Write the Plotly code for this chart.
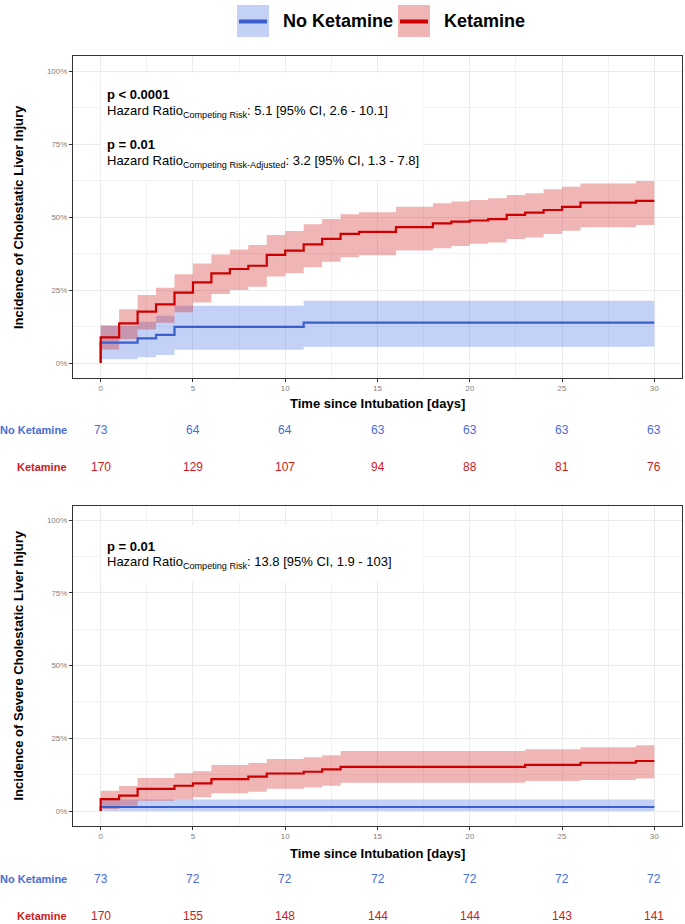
import plotly.graph_objects as go

# ---------------- data ----------------
# Top panel: Cholestatic Liver Injury (cumulative incidence, %)
time_top_ket = [0, 1, 2, 3, 4, 5, 6, 7, 8, 9, 10, 11, 12, 13, 14, 16, 18, 19, 20, 21, 22, 23, 24, 25, 26, 29]
est_top_ket = [8.8, 13.6, 17.6, 20.1, 24.1, 27.6, 30.7, 32.2, 33.3, 37.0, 38.5, 40.6, 42.5, 44.2, 44.9, 46.5,
               47.8, 48.4, 48.8, 49.3, 50.7, 51.5, 52.4, 53.5, 54.9, 55.5]
lo_top_ket = [4.6, 8.2, 11.5, 13.8, 17.4, 20.7, 23.6, 25.0, 26.1, 29.6, 30.7, 32.8, 34.7, 36.2, 36.9, 38.5,
              39.3, 40.1, 40.8, 41.3, 42.5, 43.0, 44.2, 45.3, 46.5, 47.3]
hi_top_ket = [12.9, 18.4, 23.3, 25.8, 30.4, 34.1, 37.2, 38.9, 40.4, 43.8, 45.2, 47.5, 49.3, 50.9, 51.6, 53.5,
              54.7, 55.3, 55.8, 56.4, 57.5, 58.1, 59.5, 60.4, 61.5, 62.3]

time_top_noket = [0, 2, 3, 4, 11]
est_top_noket = [7.0, 8.4, 9.6, 12.4, 13.8]
lo_top_noket = [1.3, 2.0, 2.7, 4.5, 5.6]
hi_top_noket = [12.7, 14.1, 16.2, 19.6, 21.3]

# Bottom panel: Severe Cholestatic Liver Injury
time_bot_ket = [0, 1, 2, 4, 5, 6, 8, 9, 11, 12, 13, 23, 26, 29]
est_bot_ket = [4.1, 5.3, 7.6, 8.7, 9.5, 11.0, 11.8, 12.9, 13.5, 14.3, 15.2, 15.9, 16.6, 17.2]
lo_bot_ket = [0.7, 1.8, 3.5, 4.0, 4.7, 6.1, 6.6, 7.7, 8.1, 8.7, 9.7, 10.3, 10.7, 11.2]
hi_bot_ket = [7.0, 8.6, 11.4, 13.0, 13.7, 15.8, 16.5, 17.9, 18.5, 19.2, 20.6, 21.2, 21.9, 22.6]

time_bot_noket = [0]
est_bot_noket = [1.4]
lo_bot_noket = [0.0]
hi_bot_noket = [4.0]

END_DAY = 30

# Risk tables
days_tab = [0, 5, 10, 15, 20, 25, 30]
risk_top_noket = [73, 64, 64, 63, 63, 63, 63]
risk_top_ket = [170, 129, 107, 94, 88, 81, 76]
risk_bot_noket = [73, 72, 72, 72, 72, 72, 72]
risk_bot_ket = [170, 155, 148, 144, 144, 143, 141]

group_names = ["No Ketamine", "Ketamine"]

y_ticks = [0, 25, 50, 75, 100]
y_ticktext = ["0%", "25%", "50%", "75%", "100%"]
x_ticks = [0, 5, 10, 15, 20, 25, 30]

# ---------------- style ----------------
W, H = 685, 924
FONT = "Liberation Sans, Arial, Helvetica, sans-serif"
BLUE = "#3A5FCD"
RED = "#CC0000"
BLUE_FILL = "rgba(65,105,225,0.31)"
RED_FILL = "rgba(210,30,30,0.33)"
BLUE_TXT = "#4A6CD4"
RED_TXT = "#CC1C1C"


def px_x(p):
    return p / W


def px_y(p):
    return 1 - p / H


fig = go.Figure()


def add_group(xa, ya, times, lo, hi, fill_color):
    bx = list(times) + [END_DAY]
    fig.add_trace(go.Scatter(x=bx, y=list(lo) + [lo[-1]], mode="lines", line=dict(width=0, shape="hv"),
                             xaxis=xa, yaxis=ya, showlegend=False, hoverinfo="skip"))
    fig.add_trace(go.Scatter(x=bx, y=list(hi) + [hi[-1]], mode="lines", line=dict(width=0, shape="hv"),
                             fill="tonexty", fillcolor=fill_color,
                             xaxis=xa, yaxis=ya, showlegend=False, hoverinfo="skip"))


def add_line(xa, ya, times, est, line_color):
    lx = [0] + list(times) + [END_DAY]
    ly = [0] + list(est) + [est[-1]]
    fig.add_trace(go.Scatter(x=lx, y=ly, mode="lines", line=dict(color=line_color, width=2.2, shape="hv"),
                             xaxis=xa, yaxis=ya, showlegend=False))


# bands
add_group("x", "y", time_top_noket, lo_top_noket, hi_top_noket, BLUE_FILL)
add_group("x", "y", time_top_ket, lo_top_ket, hi_top_ket, RED_FILL)
add_group("x2", "y2", time_bot_noket, lo_bot_noket, hi_bot_noket, BLUE_FILL)
add_group("x2", "y2", time_bot_ket, lo_bot_ket, hi_bot_ket, RED_FILL)
# lines
add_line("x", "y", time_top_noket, est_top_noket, BLUE)
add_line("x", "y", time_top_ket, est_top_ket, RED)
add_line("x2", "y2", time_bot_noket, est_bot_noket, BLUE)
add_line("x2", "y2", time_bot_ket, est_bot_ket, RED)

xdom = [px_x(73), px_x(682)]
top_dom = [px_y(377.6), px_y(56.4)]
bot_dom = [px_y(825.6), px_y(505.5)]

common_x = dict(range=[-1.5, 31.5], tickvals=x_ticks, showgrid=True, gridcolor="#EBEBEB", gridwidth=1,
                minor=dict(dtick=2.5, tick0=0, showgrid=True, gridcolor="#F2F2F2", gridwidth=0.8, ticks=""),
                showline=True, mirror=True, linecolor="#333333", linewidth=1,
                ticks="outside", ticklen=3, tickcolor="#333333", tickwidth=1,
                tickfont=dict(size=8, color="#7F7F7F", family=FONT), zeroline=False, fixedrange=True)
common_y = dict(range=[-5, 105], tickvals=y_ticks, ticktext=y_ticktext, showgrid=True, gridcolor="#EBEBEB",
                gridwidth=1,
                minor=dict(dtick=12.5, tick0=0, showgrid=True, gridcolor="#F2F2F2", gridwidth=0.8, ticks=""),
                showline=True, mirror=True, linecolor="#333333", linewidth=1,
                ticks="outside", ticklen=3, tickcolor="#333333", tickwidth=1,
                tickfont=dict(size=8, color="#7F7F7F", family=FONT), zeroline=False, fixedrange=True)

fig.update_layout(
    width=W, height=H, margin=dict(l=0, r=0, t=0, b=0),
    paper_bgcolor="white", plot_bgcolor="white", showlegend=False,
    font=dict(family=FONT, color="black"),
    xaxis=dict(domain=xdom, anchor="y", **common_x),
    yaxis=dict(domain=top_dom, anchor="x", **common_y),
    xaxis2=dict(domain=xdom, anchor="y2", **common_x),
    yaxis2=dict(domain=bot_dom, anchor="x2", **common_y),
)

shapes = []
annotations = []

# white label boxes covering gridlines
shapes.append(dict(type="rect", xref="x", yref="y", x0=0, x1=17.5, y0=62.7, y1=99.3,
                   fillcolor="white", line=dict(width=0), layer="between"))
shapes.append(dict(type="rect", xref="x2", yref="y2", x0=0, x1=17.5, y0=78.7, y1=98.3,
                   fillcolor="white", line=dict(width=0), layer="between"))

# legend (manual)
for (x0, col, fill, name) in [(237, BLUE, BLUE_FILL, group_names[0]), (398, RED, RED_FILL, group_names[1])]:
    shapes.append(dict(type="rect", xref="paper", yref="paper", x0=px_x(x0), x1=px_x(x0 + 32),
                       y0=px_y(37), y1=px_y(5), fillcolor=fill, line=dict(width=0)))
    shapes.append(dict(type="line", xref="paper", yref="paper", x0=px_x(x0 + 2), x1=px_x(x0 + 30),
                       y0=px_y(21.5), y1=px_y(21.5), line=dict(color=col, width=4)))
    annotations.append(dict(text="<b>%s</b>" % name, xref="paper", yref="paper", x=px_x(x0 + 44), y=px_y(21.5),
                            xanchor="left", yanchor="middle", showarrow=False,
                            font=dict(size=18, color="black", family=FONT)))

# stat text
stat_lines_top = [
    ("<b>p &lt; 0.0001</b>", 95),
    ("Hazard Ratio<sub>Competing Risk</sub>: 5.1 [95% CI, 2.6 - 10.1]", 111.5),
    ("<b>p = 0.01</b>", 144.5),
    ("Hazard Ratio<sub>Competing Risk-Adjusted</sub>: 3.2 [95% CI, 1.3 - 7.8]", 161),
]
stat_lines_bot = [
    ("<b>p = 0.01</b>", 546),
    ("Hazard Ratio<sub>Competing Risk</sub>: 13.8 [95% CI, 1.9 - 103]", 562),
]
for txt, yp in stat_lines_top + stat_lines_bot:
    annotations.append(dict(text=txt, xref="paper", yref="paper", x=px_x(105), y=px_y(yp),
                            xanchor="left", yanchor="middle", showarrow=False,
                            font=dict(size=13, color="black", family=FONT)))

# axis titles
annotations.append(dict(text="<b>Incidence of Cholestatic Liver Injury</b>", xref="paper", yref="paper",
                        x=px_x(18), y=px_y(217), textangle=-90, showarrow=False,
                        xanchor="center", yanchor="middle", font=dict(size=13, color="black", family=FONT)))
annotations.append(dict(text="<b>Incidence of Severe Cholestatic Liver Injury</b>", xref="paper", yref="paper",
                        x=px_x(18), y=px_y(665.5), textangle=-90, showarrow=False,
                        xanchor="center", yanchor="middle", font=dict(size=13, color="black", family=FONT)))
for yp in [403, 853]:
    annotations.append(dict(text="<b>Time since Intubation [days]</b>", xref="paper", yref="paper",
                            x=(xdom[0] + xdom[1]) / 2, y=px_y(yp), showarrow=False,
                            xanchor="center", yanchor="middle", font=dict(size=13, color="black", family=FONT)))

# risk tables
for xa, rows in [("x", [(risk_top_noket, 430, BLUE_TXT, group_names[0]), (risk_top_ket, 467, RED_TXT, group_names[1])]),
                 ("x2", [(risk_bot_noket, 879, BLUE_TXT, group_names[0]), (risk_bot_ket, 915.5, RED_TXT, group_names[1])])]:
    for vals, yp, col, name in rows:
        annotations.append(dict(text="<b>%s</b>" % name, xref="paper", yref="paper", x=px_x(69), y=px_y(yp),
                                xanchor="right", yanchor="middle", showarrow=False,
                                font=dict(size=11, color=col, family=FONT)))
        for d, v in zip(days_tab, vals):
            annotations.append(dict(text=str(v), xref=xa, yref="paper", x=d, y=px_y(yp),
                                    xanchor="center", yanchor="middle", showarrow=False,
                                    font=dict(size=12, color=col, family=FONT)))

fig.update_layout(shapes=shapes, annotations=annotations)
fig.write_html("out.html", config={"displayModeBar": False},
               post_script="document.body.style.margin='0';document.body.style.padding='0';"
                           "document.body.style.overflow='hidden';")
